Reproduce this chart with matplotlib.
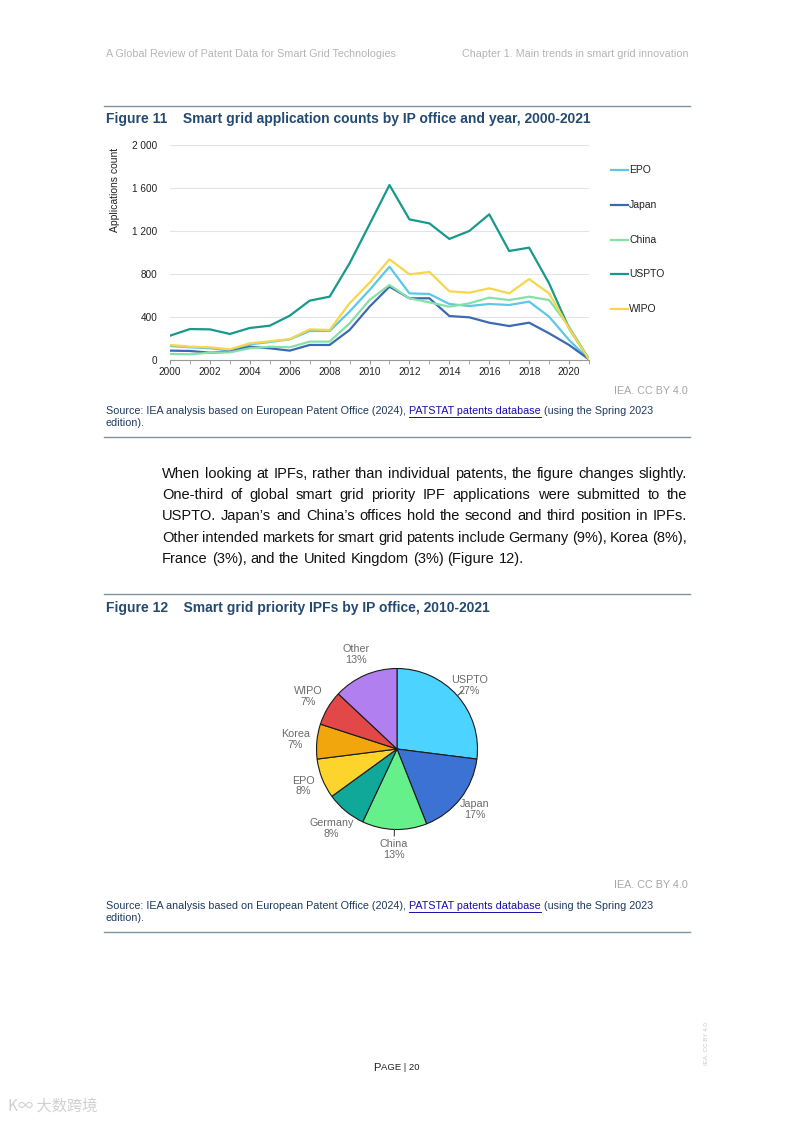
import matplotlib
matplotlib.use('Agg')
import matplotlib.pyplot as plt
import numpy as np

plt.rcParams['font.family'] = ['Liberation Sans', 'DejaVu Sans']

# Figure 11 data
years = list(range(2000, 2022))
epo = [130, 118, 109, 87, 146, 167, 192, 270, 270, 450, 651, 868, 620, 614, 521, 502, 521, 512, 543, 403, 186, 5]
japan = [87, 84, 68, 78, 124, 109, 87, 140, 140, 279, 496, 682, 574, 574, 409, 397, 347, 316, 347, 248, 140, 5]
china = [56, 53, 68, 71, 109, 124, 118, 171, 171, 341, 558, 698, 574, 536, 496, 527, 580, 558, 589, 558, 310, 5]
uspto = [226, 288, 285, 242, 298, 319, 412, 552, 589, 899, 1262, 1628, 1308, 1271, 1126, 1200, 1355, 1014, 1045, 713, 295, 6]
wipo = [140, 124, 118, 99, 155, 174, 195, 285, 279, 527, 719, 936, 797, 819, 639, 626, 667, 620, 753, 620, 295, 5]
series_names = ['EPO', 'Japan', 'China', 'USPTO', 'WIPO']
line_colors = ['#5cc8e6', '#3d69b2', '#86e0a8', '#17998c', '#f5d64c']

# Figure 12 data
pie_labels = ['USPTO', 'Japan', 'China', 'Germany', 'EPO', 'Korea', 'WIPO', 'Other']
pie_values = [27, 17, 13, 8, 8, 7, 7, 13]
pie_colors = ['#4dd3ff', '#3b72d4', '#66f08c', '#10a898', '#fdd42c', '#f2a60e', '#e24848', '#b27ff0']

W, H = 793, 1122
fig = plt.figure(figsize=(W / 100, H / 100), dpi=100)

def fx(x):
    return x / W

def fy(y):
    return 1 - y / H

title_col = '#244a72'
rule_col = '#7f93a3'
gray = '#a6a6a6'
src_col = '#1f3a5f'

# header
fig.text(fx(106), fy(54), 'A Global Review of Patent Data for Smart Grid Technologies',
         fontsize=7.75, color='#b5b5b5', va='center', ha='left')
fig.text(fx(688), fy(54), 'Chapter 1. Main trends in smart grid innovation',
         fontsize=7.75, color='#b5b5b5', va='center', ha='right')

# horizontal rules
for yy in [106, 437, 594, 932]:
    fig.add_artist(plt.Line2D([fx(104), fx(690)], [fy(yy), fy(yy)], color=rule_col, lw=1.0))

# titles
fig.text(fx(106), fy(119), 'Figure 11    Smart grid application counts by IP office and year, 2000-2021',
         fontsize=10, fontweight='bold', color=title_col, va='center')
fig.text(fx(106), fy(608), 'Figure 12    Smart grid priority IPFs by IP office, 2010-2021',
         fontsize=10, fontweight='bold', color=title_col, va='center')

# ---- line chart
ax = fig.add_axes([fx(170), fy(360), fx(589) - fx(170), fy(145) - fy(360)])
for vals, name, c in zip([epo, japan, china, uspto, wipo], series_names, line_colors):
    ax.plot(years, vals, color=c, lw=1.6, label=name)
ax.set_xlim(2000, 2021)
ax.set_ylim(0, 2000)
ax.set_yticks([0, 400, 800, 1200, 1600, 2000])
ax.set_yticklabels(['0', '400', '800', '1 200', '1 600', '2 000'])
ax.set_xticks(range(2000, 2021, 2))
ax.set_xticks(range(2000, 2022), minor=True)
ax.tick_params(axis='both', labelsize=7.2, colors='#222222')
ax.tick_params(axis='y', length=0, pad=9)
ax.tick_params(axis='x', which='both', length=3, color='#999999', pad=2)
for s in ['top', 'right', 'left']:
    ax.spines[s].set_visible(False)
ax.spines['bottom'].set_color('#999999')
ax.grid(axis='y', color='#e3e3e3', lw=0.8)
ax.set_axisbelow(True)
fig.text(fx(115), fy(190), 'Applications count', rotation=90, fontsize=7.5,
         va='center', ha='center', color='#222222')

# legend drawn manually on the right
for i, (name, c) in enumerate(zip(series_names, line_colors)):
    yy = 170 + i * 34.8
    fig.add_artist(plt.Line2D([fx(611), fx(628)], [fy(yy), fy(yy)], color=c, lw=1.6))
    fig.text(fx(629), fy(yy), name, fontsize=7.5, va='center', ha='left', color='#222222')

fig.text(fx(688), fy(391), 'IEA. CC BY 4.0', fontsize=7.75, color=gray, ha='right', va='center')

renderer = fig.canvas.get_renderer()

def text_width(t):
    bb = t.get_window_extent(renderer=renderer)
    return bb.width

def source_note(y1, y2):
    pieces = [('Source: IEA analysis based on European Patent Office (2024), ', src_col, False),
              ('PATSTAT patents database', '#1a0dab', True),
              (' (using the Spring 2023', src_col, False)]
    x = 106
    for txt, col, ul in pieces:
        t = fig.text(fx(x), fy(y1), txt, fontsize=7.75, color=col, va='center', ha='left')
        w = text_width(t)
        if ul:
            fig.add_artist(plt.Line2D([fx(x), fx(x + w)], [fy(y1 + 5.5), fy(y1 + 5.5)], color=col, lw=0.7))
        x += w
    fig.text(fx(106), fy(y2), 'edition).', fontsize=7.75, color=src_col, va='center', ha='left')

source_note(411, 423)

# ---- body paragraph, justified
body = ["When looking at IPFs, rather than individual patents, the figure changes slightly.",
        "One-third of global smart grid priority IPF applications were submitted to the",
        "USPTO. Japan\u2019s and China\u2019s offices hold the second and third position in IPFs.",
        "Other intended markets for smart grid patents include Germany (9%), Korea (8%),",
        "France (3%), and the United Kingdom (3%) (Figure 12)."]
left, right = 162, 687
for i, line in enumerate(body):
    yy = 474 + i * 21.2
    words = line.split(' ')
    texts = [fig.text(0, fy(yy), w, fontsize=10.5, color='#111111', va='center', ha='left') for w in words]
    widths = [text_width(t) for t in texts]
    if i < len(body) - 1:
        gap = (right - left - sum(widths)) / (len(words) - 1)
    else:
        gap = text_width(fig.text(0, 0, 'a a', fontsize=10.5, alpha=0)) - text_width(fig.text(0, 0, 'aa', fontsize=10.5, alpha=0))
    x = left
    for t, w in zip(texts, widths):
        t.set_x(fx(x))
        x += w + gap

# ---- pie chart
cx, cy, r = 397, 749, 80.5
axp = fig.add_axes([fx(cx - r), fy(cy + r), 2 * r / W, 2 * r / H])
wedges, _ = axp.pie(pie_values, colors=pie_colors, startangle=90, counterclock=False,
                    wedgeprops=dict(edgecolor='#1a1a1a', linewidth=0.8))
axp.set_xlim(-1, 1)
axp.set_ylim(-1, 1)
axp.axis('off')
label_r = {'USPTO': 1.2, 'Japan': 1.22, 'China': 1.25, 'Germany': 1.28,
           'EPO': 1.25, 'Korea': 1.27, 'WIPO': 1.28, 'Other': 1.28}
for wdg, lab, v in zip(wedges, pie_labels, pie_values):
    ang = np.deg2rad((wdg.theta1 + wdg.theta2) / 2)
    rr = label_r[lab]
    axp.text(rr * np.cos(ang), rr * np.sin(ang), f'{lab}\n{v}%', fontsize=7.75, color='#6b6b6b',
             ha='center', va='center', linespacing=1.1, clip_on=False)
    if lab in ('USPTO', 'China'):
        axp.plot([np.cos(ang), 1.08 * np.cos(ang)], [np.sin(ang), 1.08 * np.sin(ang)],
                 color='#444444', lw=0.8, clip_on=False)

fig.text(fx(688), fy(885), 'IEA. CC BY 4.0', fontsize=7.75, color=gray, ha='right', va='center')
source_note(906, 918)

# footer
fig.text(fx(381), fy(1068), 'P', fontsize=8, color='#222222', ha='right', va='center')
fig.text(fx(381), fy(1068), 'AGE | 20', fontsize=6.8, color='#222222', ha='left', va='center')
fig.text(fx(707), fy(1043), 'IEA. CC BY 4.0.', fontsize=4.5, color='#c8c8c8', rotation=90,
         ha='center', va='center')
fig.text(fx(8), fy(1106), 'K\u221e \u5927\u6570\u8de8\u5883', fontsize=11, color='#d0d0d0', ha='left', va='center',
         family=['Noto Sans CJK SC', 'DejaVu Sans'])

fig.savefig('out.png', dpi=100)
